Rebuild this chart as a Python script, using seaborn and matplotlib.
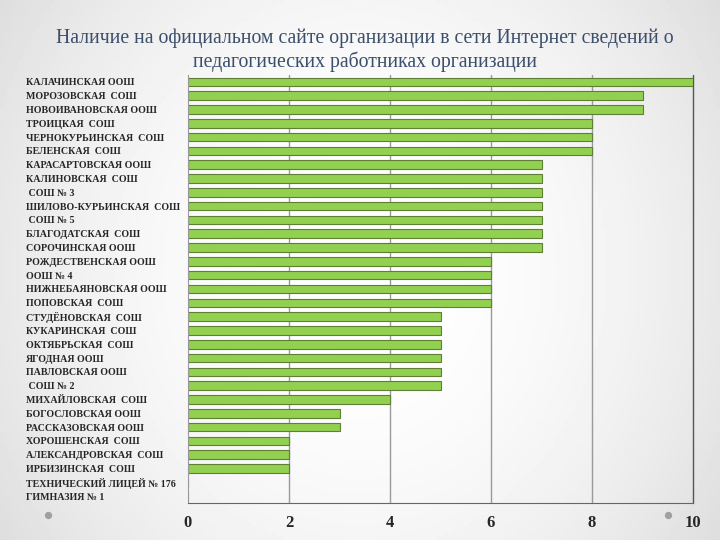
import numpy as np
import pandas as pd
import matplotlib.pyplot as plt
import seaborn as sns

schools = ["КАЛАЧИНСКАЯ ООШ", "МОРОЗОВСКАЯ  СОШ", "НОВОИВАНОВСКАЯ ООШ", "ТРОИЦКАЯ  СОШ",
           "ЧЕРНОКУРЬИНСКАЯ  СОШ", "БЕЛЕНСКАЯ  СОШ", "КАРАСАРТОВСКАЯ ООШ", "КАЛИНОВСКАЯ  СОШ",
           " СОШ № 3", "ШИЛОВО-КУРЬИНСКАЯ  СОШ", " СОШ № 5", "БЛАГОДАТСКАЯ  СОШ",
           "СОРОЧИНСКАЯ ООШ", "РОЖДЕСТВЕНСКАЯ ООШ", "ООШ № 4", "НИЖНЕБАЯНОВСКАЯ ООШ",
           "ПОПОВСКАЯ  СОШ", "СТУДЁНОВСКАЯ  СОШ", "КУКАРИНСКАЯ  СОШ", "ОКТЯБРЬСКАЯ  СОШ",
           "ЯГОДНАЯ ООШ", "ПАВЛОВСКАЯ ООШ", " СОШ № 2", "МИХАЙЛОВСКАЯ  СОШ",
           "БОГОСЛОВСКАЯ ООШ", "РАССКАЗОВСКАЯ ООШ", "ХОРОШЕНСКАЯ  СОШ", "АЛЕКСАНДРОВСКАЯ  СОШ",
           "ИРБИЗИНСКАЯ  СОШ", "ТЕХНИЧЕСКИЙ ЛИЦЕЙ № 176", "ГИМНАЗИЯ № 1"]
scores = [10, 9, 9, 8, 8, 8, 7, 7, 7, 7, 7, 7, 7, 6, 6, 6, 6, 5, 5, 5, 5, 5, 5, 4,
          3, 3, 2, 2, 2, 0, 0]
x_ticks = [0, 2, 4, 6, 8, 10]

df = pd.DataFrame({"school": schools, "score": scores})

sns.set_style("white")
plt.rcParams["font.family"] = ["Liberation Serif", "DejaVu Serif"]

fig = plt.figure(figsize=(7.2, 5.4), dpi=100)

# light grey background, whiter in the middle
bg = fig.add_axes([0, 0, 1, 1], zorder=-5)
gx, gy = np.meshgrid(np.linspace(-1, 1, 200), np.linspace(-1, 1, 150))
grad = 1 - 0.13 * np.clip(0.7 * gx**2 + 0.3 * gy**2, 0, 1)
bg.imshow(grad, cmap="gray", vmin=0, vmax=1, aspect="auto", extent=[0, 1, 0, 1])
bg.axis("off")
bg.scatter([48 / 720, 668 / 720], [1 - 515 / 540] * 2, s=18, color="#a0a0a0")

ax = fig.add_axes([188 / 720, 1 - 503 / 540, (693 - 188) / 720, (503 - 75) / 540])
ax.patch.set_alpha(0)
sns.barplot(data=df, x="score", y="school", orient="h", color="#92D050",
            edgecolor="#5f7f35", linewidth=0.8, width=0.62, saturation=1, ax=ax)

ax.set_xlim(0, 10)
ax.set_xticks(x_ticks)
ax.set_xticklabels([str(t) for t in x_ticks], fontweight="bold", fontsize=12)
ax.set_xlabel("")
ax.set_ylabel("")
for t in x_ticks[1:]:
    ax.axvline(t, color="#9a9a9a" if t < 10 else "#555555", linewidth=1,
               zorder=0, clip_on=False)
for s in ["top", "right"]:
    ax.spines[s].set_visible(False)
ax.spines["bottom"].set_color("#666666")
ax.spines["left"].set_color("#999999")
ax.tick_params(axis="x", length=5, color="#666666", direction="out")
ax.tick_params(axis="y", length=4, color="#888888", pad=113)
for lbl in ax.get_yticklabels():
    lbl.set_horizontalalignment("left")
    lbl.set_fontweight("bold")
    lbl.set_fontsize(7.2)

fig.text(0.507, 0.907, "Наличие на официальном сайте организации в сети Интернет сведений о\n"
         "педагогических работниках организации", ha="center", va="center",
         fontsize=14.2, color="#3b4e6b", linespacing=1.25)

fig.savefig("out.png", dpi=100)
